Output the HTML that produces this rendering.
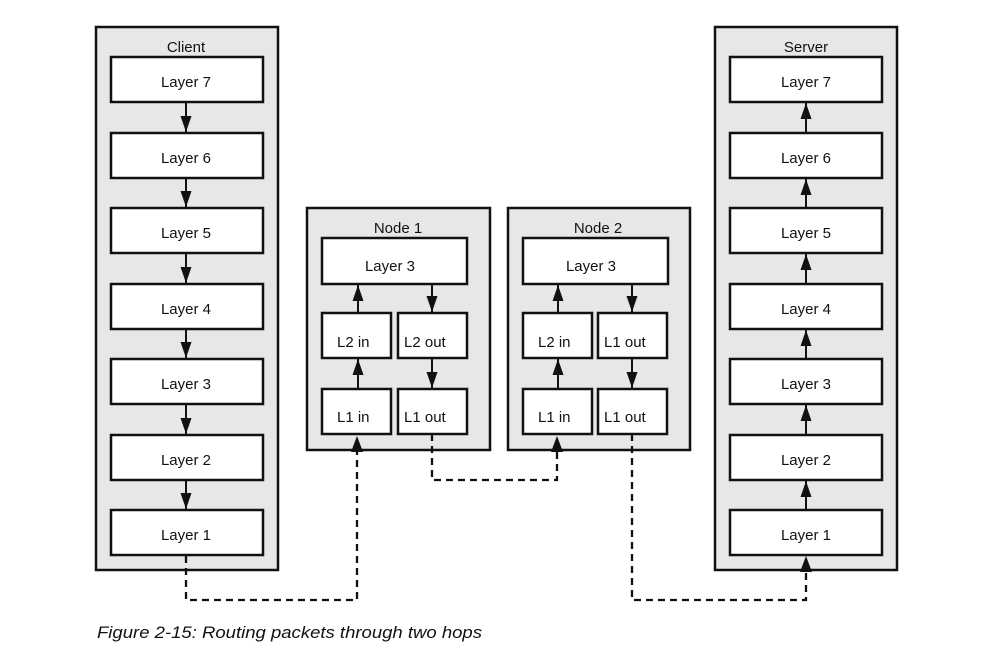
<!DOCTYPE html>
<html><head><meta charset="utf-8"><style>
html,body{margin:0;padding:0;background:#fff}
svg{display:block}
text{font-family:"Liberation Sans",sans-serif;font-size:15px;fill:#111;transform:translateY(2px)}
text.cap{transform:none}
.g{fill:#e6e7e8;stroke:#111;stroke-width:2.5}
.w{fill:#fff;stroke:#111;stroke-width:2.5}
.l{stroke:#111;stroke-width:2;fill:none}
.d{stroke:#111;stroke-width:2.3;fill:none;stroke-dasharray:7,5}
</style></head><body>
<svg width="993" height="660" viewBox="0 0 993 660" xmlns="http://www.w3.org/2000/svg">
<defs>
<marker id="b" viewBox="0 0 16 11" refX="16" refY="5.5" markerWidth="16" markerHeight="11" markerUnits="userSpaceOnUse" orient="auto">
<path d="M0,0 L16,5.5 L0,11 z" fill="#111"/>
</marker>
</defs>

<!-- Client -->
<rect class="g" x="96" y="27" width="182" height="543"/>
<text x="186" y="50" text-anchor="middle">Client</text>
<rect class="w" x="111" y="57" width="152" height="45"/><text x="186" y="85" text-anchor="middle">Layer 7</text>
<rect class="w" x="111" y="133" width="152" height="45"/><text x="186" y="161" text-anchor="middle">Layer 6</text>
<rect class="w" x="111" y="208" width="152" height="45"/><text x="186" y="236" text-anchor="middle">Layer 5</text>
<rect class="w" x="111" y="284" width="152" height="45"/><text x="186" y="312" text-anchor="middle">Layer 4</text>
<rect class="w" x="111" y="359" width="152" height="45"/><text x="186" y="387" text-anchor="middle">Layer 3</text>
<rect class="w" x="111" y="435" width="152" height="45"/><text x="186" y="463" text-anchor="middle">Layer 2</text>
<rect class="w" x="111" y="510" width="152" height="45"/><text x="186" y="538" text-anchor="middle">Layer 1</text>
<line class="l" x1="186" y1="102" x2="186" y2="132" marker-end="url(#b)"/>
<line class="l" x1="186" y1="178" x2="186" y2="207" marker-end="url(#b)"/>
<line class="l" x1="186" y1="253" x2="186" y2="283" marker-end="url(#b)"/>
<line class="l" x1="186" y1="329" x2="186" y2="358" marker-end="url(#b)"/>
<line class="l" x1="186" y1="404" x2="186" y2="434" marker-end="url(#b)"/>
<line class="l" x1="186" y1="480" x2="186" y2="509" marker-end="url(#b)"/>

<!-- Server -->
<rect class="g" x="715" y="27" width="182" height="543"/>
<text x="806" y="50" text-anchor="middle">Server</text>
<rect class="w" x="730" y="57" width="152" height="45"/><text x="806" y="85" text-anchor="middle">Layer 7</text>
<rect class="w" x="730" y="133" width="152" height="45"/><text x="806" y="161" text-anchor="middle">Layer 6</text>
<rect class="w" x="730" y="208" width="152" height="45"/><text x="806" y="236" text-anchor="middle">Layer 5</text>
<rect class="w" x="730" y="284" width="152" height="45"/><text x="806" y="312" text-anchor="middle">Layer 4</text>
<rect class="w" x="730" y="359" width="152" height="45"/><text x="806" y="387" text-anchor="middle">Layer 3</text>
<rect class="w" x="730" y="435" width="152" height="45"/><text x="806" y="463" text-anchor="middle">Layer 2</text>
<rect class="w" x="730" y="510" width="152" height="45"/><text x="806" y="538" text-anchor="middle">Layer 1</text>
<line class="l" x1="806" y1="133" x2="806" y2="103" marker-end="url(#b)"/>
<line class="l" x1="806" y1="208" x2="806" y2="179" marker-end="url(#b)"/>
<line class="l" x1="806" y1="284" x2="806" y2="254" marker-end="url(#b)"/>
<line class="l" x1="806" y1="359" x2="806" y2="330" marker-end="url(#b)"/>
<line class="l" x1="806" y1="435" x2="806" y2="405" marker-end="url(#b)"/>
<line class="l" x1="806" y1="510" x2="806" y2="481" marker-end="url(#b)"/>

<!-- Node 1 -->
<rect class="g" x="307" y="208" width="183" height="242"/>
<text x="398" y="231" text-anchor="middle">Node 1</text>
<rect class="w" x="322" y="238" width="145" height="46"/><text x="390" y="269" text-anchor="middle">Layer 3</text>
<rect class="w" x="322" y="313" width="69" height="45"/><text x="337" y="345">L2 in</text>
<rect class="w" x="398" y="313" width="69" height="45"/><text x="404" y="345">L2 out</text>
<rect class="w" x="322" y="389" width="69" height="45"/><text x="337" y="420">L1 in</text>
<rect class="w" x="398" y="389" width="69" height="45"/><text x="404" y="420">L1 out</text>
<line class="l" x1="358" y1="313" x2="358" y2="285" marker-end="url(#b)"/>
<line class="l" x1="432" y1="284" x2="432" y2="312" marker-end="url(#b)"/>
<line class="l" x1="358" y1="389" x2="358" y2="359" marker-end="url(#b)"/>
<line class="l" x1="432" y1="358" x2="432" y2="388" marker-end="url(#b)"/>

<!-- Node 2 -->
<rect class="g" x="508" y="208" width="182" height="242"/>
<text x="598" y="231" text-anchor="middle">Node 2</text>
<rect class="w" x="523" y="238" width="145" height="46"/><text x="591" y="269" text-anchor="middle">Layer 3</text>
<rect class="w" x="523" y="313" width="69" height="45"/><text x="538" y="345">L2 in</text>
<rect class="w" x="598" y="313" width="69" height="45"/><text x="604" y="345">L1 out</text>
<rect class="w" x="523" y="389" width="69" height="45"/><text x="538" y="420">L1 in</text>
<rect class="w" x="598" y="389" width="69" height="45"/><text x="604" y="420">L1 out</text>
<line class="l" x1="558" y1="313" x2="558" y2="285" marker-end="url(#b)"/>
<line class="l" x1="632" y1="284" x2="632" y2="312" marker-end="url(#b)"/>
<line class="l" x1="558" y1="389" x2="558" y2="359" marker-end="url(#b)"/>
<line class="l" x1="632" y1="358" x2="632" y2="388" marker-end="url(#b)"/>

<!-- dashed links -->
<path class="d" d="M186,556 V600 H357 V452"/>
<path d="M351,452 L357,436 L363,452 z" fill="#111"/>
<path class="d" d="M432,434 V480 H557 V452"/>
<path d="M551,452 L557,436 L563,452 z" fill="#111"/>
<path class="d" d="M632,434 V600 H806 V572"/>
<path d="M800,572 L806,556 L812,572 z" fill="#111"/>

<text class="cap" x="97" y="638" style="font-style:italic;font-size:17px" textLength="385" lengthAdjust="spacingAndGlyphs">Figure 2-15: Routing packets through two hops</text>
</svg>
</body></html>
